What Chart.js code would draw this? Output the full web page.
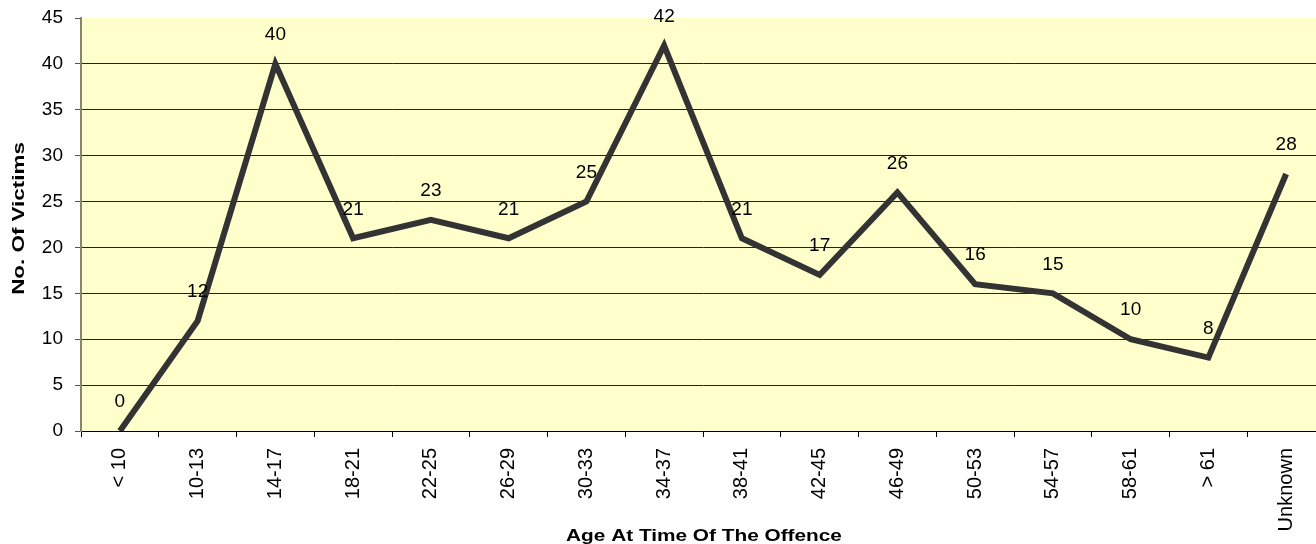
<!DOCTYPE html>
<html>
<head>
<meta charset="utf-8">
<script src="https://cdn.jsdelivr.net/npm/chart.js@4.4.0/dist/chart.umd.min.js"></script>
<style>
    html, body { margin: 0; padding: 0; background: #fff; overflow: hidden; }
    #wrap { width: 1316px; height: 544px; overflow: hidden; }
    #box { width: 1325px; height: 544px; }
</style>
</head>
<body>
<div id="wrap"><div id="box"><canvas id="ageChart"></canvas></div></div>
<script>
const ageGroups = ['< 10', '10-13', '14-17', '18-21', '22-25', '26-29', '30-33', '34-37',
    '38-41', '42-45', '46-49', '50-53', '54-57', '58-61', '> 61', 'Unknown'];
const victims = [0, 12, 40, 21, 23, 21, 25, 42, 21, 17, 26, 16, 15, 10, 8, 28];
const yTicks = [0, 5, 10, 15, 20, 25, 30, 35, 40, 45];
const xTitle = 'Age At Time Of The Offence';
const yTitle = 'No. Of Victims';

const FONT = '"Liberation Sans", Arial, sans-serif';

// yellow plot background
const plotBackground = {
    id: 'plotBackground',
    beforeDraw(chart) {
        const { ctx, chartArea: a } = chart;
        ctx.save();
        ctx.fillStyle = '#FFFFCC';
        ctx.fillRect(a.left, a.top, a.right - a.left, a.bottom - a.top);
        ctx.restore();
    }
};

// value labels above each point
const valueLabels = {
    id: 'valueLabels',
    afterDatasetsDraw(chart) {
        const { ctx } = chart;
        const meta = chart.getDatasetMeta(0);
        ctx.save();
        ctx.font = '19px ' + FONT;
        ctx.fillStyle = '#000';
        ctx.textAlign = 'center';
        ctx.textBaseline = 'middle';
        meta.data.forEach((pt, i) => {
            ctx.fillText(String(victims[i]), pt.x, pt.y - 29);
        });
        ctx.restore();
    }
};

// axis titles, drawn a bit wide like the original export
const axisTitles = {
    id: 'axisTitles',
    afterDraw(chart) {
        const { ctx, chartArea: a } = chart;
        ctx.save();
        ctx.font = 'bold 16px ' + FONT;
        ctx.fillStyle = '#000';
        ctx.textAlign = 'center';
        ctx.textBaseline = 'alphabetic';

        ctx.save();
        ctx.translate(704, 541);
        ctx.scale(1.3, 1);
        ctx.fillText(xTitle, 0, 0);
        ctx.restore();

        ctx.save();
        ctx.translate(24, (a.top + a.bottom) / 2 - 6);
        ctx.rotate(-Math.PI / 2);
        ctx.scale(1.4, 1);
        ctx.fillText(yTitle, 0, 0);
        ctx.restore();

        ctx.restore();
    }
};

new Chart(document.getElementById('ageChart'), {
    type: 'line',
    data: {
        labels: ageGroups,
        datasets: [{
            data: victims,
            borderColor: '#333333',
            borderWidth: 6,
            pointRadius: 0,
            tension: 0,
            borderJoinStyle: 'miter'
        }]
    },
    options: {
        responsive: true,
        maintainAspectRatio: false,
        animation: false,
        layout: { padding: { top: 18, right: 0, left: 0, bottom: 0 } },
        plugins: { legend: { display: false }, tooltip: { enabled: false } },
        scales: {
            x: {
                offset: true,
                grid: {
                    offset: true,
                    drawOnChartArea: false,
                    drawTicks: true,
                    tickLength: 6,
                    tickColor: '#000'
                },
                border: { color: '#000', width: 1 },
                ticks: {
                    minRotation: 90,
                    maxRotation: 90,
                    autoSkip: false,
                    padding: 11,
                    color: '#000',
                    font: { family: FONT, size: 20 }
                },
                afterFit(scale) {
                    scale.height = 113;
                    scale.paddingLeft = 0;
                    scale.paddingRight = 0;
                }
            },
            y: {
                min: 0,
                max: 45,
                afterBuildTicks(scale) {
                    scale.ticks = yTicks.map(v => ({ value: v }));
                },
                grid: {
                    color: ctx => (ctx.tick && ctx.tick.value === 45) ? 'rgba(0,0,0,0)' : '#222',
                    lineWidth: 1,
                    drawTicks: true,
                    tickLength: 6,
                    tickColor: '#555'
                },
                border: { color: '#86866e', width: 2 },
                ticks: {
                    padding: 12,
                    color: '#000',
                    font: { family: FONT, size: 19 }
                },
                afterFit(scale) {
                    scale.width = 81;
                    scale.paddingTop = 0;
                    scale.paddingBottom = 0;
                }
            }
        }
    },
    plugins: [plotBackground, valueLabels, axisTitles]
});
</script>
</body>
</html>
